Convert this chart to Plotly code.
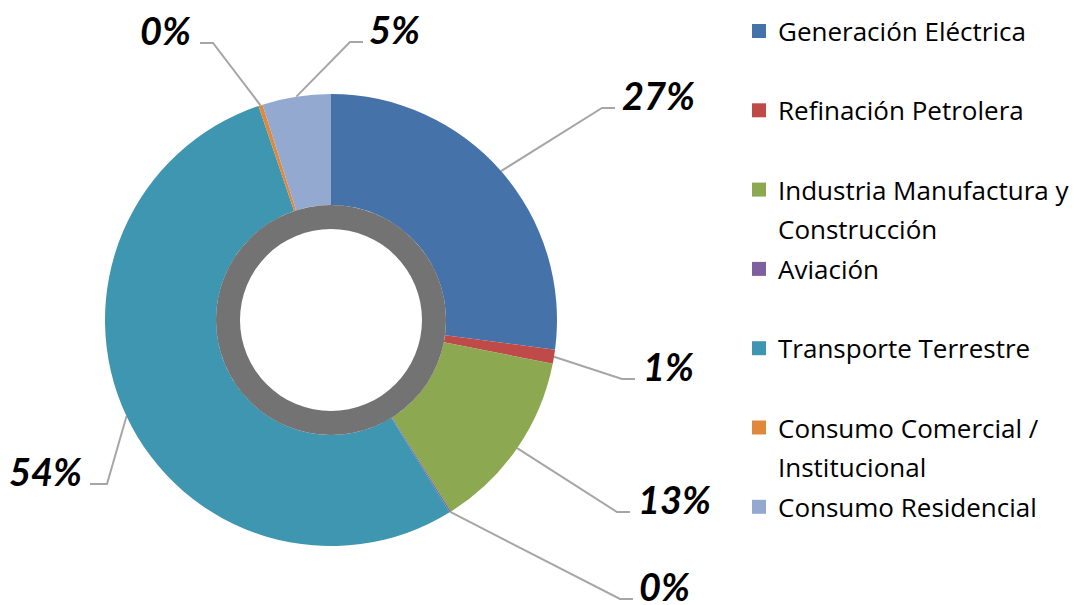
import math
import textwrap
import plotly.graph_objects as go

# ---------------- data ----------------
categories = [
    "Generación Eléctrica",
    "Refinación Petrolera",
    "Industria Manufactura y Construcción",
    "Aviación",
    "Transporte Terrestre",
    "Consumo Comercial / Institucional",
    "Consumo Residencial",
]
values = [27.1, 1.0, 13.0, 0.1, 53.6, 0.3, 4.9]
colors = ["#4672AA", "#BE4B48", "#8CA850", "#7D60A0", "#3F96B0", "#E0883C", "#94A9D0"]

# ---------------- layout constants ----------------
W, H = 1079, 605
CX, CY = 331, 320          # donut centre (px)
R_OUT = 226                # outer radius (px)
R_RING = 115               # grey ring outer radius
R_HOLE = 91                # white hole radius
LINE_COLOR = "#A6A6A6"
LABEL_FONT = dict(family="Lato", size=38, color="black", weight="bold", style="italic")
LEGEND_FONT = dict(family="Open Sans", size=26, color="black")

# label placement: (text x, text cap-centre y, elbow x, horizontal end x, xanchor)
label_layout = [
    (620, 95, 602, 615, "left"),
    (641, 366, 622, 635, "left"),
    (636, 499, 617, 630, "left"),
    (637, 586, 620, 633, "left"),
    (84, 471, 107, 90, "right"),
    (193, 30, 213, 200, "right"),
    (367, 29, 350, 363, "left"),
]

legend_x_box = 759
legend_x_text = 776
legend_y0 = 31
legend_step = 79.3
legend_line_gap = 39


def dom(r):
    return dict(
        x=[(CX - r) / W, (CX + r) / W],
        y=[(H - CY - r) / H, (H - CY + r) / H],
    )


fig = go.Figure()

# main donut
fig.add_trace(go.Pie(
    labels=categories,
    values=values,
    sort=False,
    direction="clockwise",
    rotation=0,
    hole=R_RING / R_OUT,
    marker=dict(colors=colors, line=dict(width=0)),
    textinfo="none",
    hoverinfo="label+percent",
    domain=dom(R_OUT),
    showlegend=False,
))

# grey inner ring
fig.add_trace(go.Pie(
    labels=["ring"],
    values=[1],
    hole=R_HOLE / R_RING,
    marker=dict(colors=["#737373"], line=dict(width=0)),
    textinfo="none",
    hoverinfo="skip",
    domain=dom(R_RING),
    showlegend=False,
    sort=False,
))

# leader lines and percentage labels (computed from the data)
total = sum(values)
cum = 0.0
annotations = []
for v, (tx, ty, ex, hx, anc) in zip(values, label_layout):
    mid = (cum + v / 2) / total * 2 * math.pi
    cum += v
    sx = CX + R_OUT * math.sin(mid)
    sy = CY - R_OUT * math.cos(mid)
    ly = ty + 13
    fig.add_trace(go.Scatter(
        x=[sx, ex, hx], y=[sy, ly, ly],
        mode="lines", line=dict(color=LINE_COLOR, width=2),
        hoverinfo="skip", showlegend=False,
        xaxis="x", yaxis="y",
    ))
    annotations.append(dict(
        x=tx, y=ty, xref="x", yref="y",
        text=f"{round(v / total * 100):.0f}%",
        showarrow=False, xanchor=anc, yanchor="middle",
        font=LABEL_FONT,
    ))

# manual legend
for i, (name, col) in enumerate(zip(categories, colors)):
    yc = legend_y0 + i * legend_step
    fig.add_trace(go.Scatter(
        x=[legend_x_box], y=[yc], mode="markers",
        marker=dict(symbol="square", size=14, color=col, line=dict(width=0)),
        hoverinfo="skip", showlegend=False,
    ))
    for j, line in enumerate(textwrap.wrap(name, 23)):
        annotations.append(dict(
            x=legend_x_text, y=yc + j * legend_line_gap, xref="x", yref="y",
            text=line, showarrow=False, xanchor="left", yanchor="middle",
            font=LEGEND_FONT,
        ))

fig.update_layout(
    width=W, height=H,
    margin=dict(l=0, r=0, t=0, b=0),
    paper_bgcolor="white", plot_bgcolor="rgba(0,0,0,0)",
    xaxis=dict(range=[0, W], visible=False, fixedrange=True),
    yaxis=dict(range=[H, 0], visible=False, fixedrange=True),
    annotations=annotations,
    showlegend=False,
)

fig.write_html(
    "out.html",
    config={"displayModeBar": False},
    post_script="document.body.style.margin='0';document.body.style.overflow='hidden';",
)
